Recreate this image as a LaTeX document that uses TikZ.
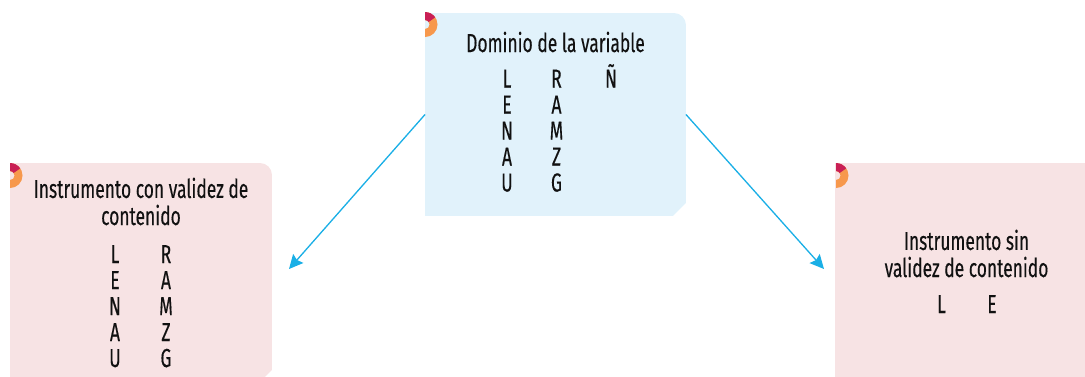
\documentclass[tikz,border=0pt]{standalone}
\usepackage{fontspec}
\setmainfont{Fira Sans}[FakeStretch=0.67, FakeBold=0.3]
\usetikzlibrary{arrows.meta, positioning, calc}
\definecolor{cielo}{HTML}{E1F2FB}
\definecolor{rosado}{HTML}{F7E3E4}
\definecolor{flecha}{HTML}{1AAFE6}
\definecolor{naranja}{HTML}{F7984C}
\definecolor{carmin}{HTML}{C91F55}
\definecolor{tinta}{HTML}{111111}

% fondo de caja: esquina superior derecha redondeada, inferior derecha cortada
\newcommand{\fondocaja}[2]{%
  \fill[#2] (#1.south west) -- (#1.north west) [rounded corners=0.24cm]
    -- (#1.north east) [sharp corners] -- ($(#1.south east)+(0,-13)$)
    -- ($(#1.south east)+(-13,0)$) -- cycle;
}
% medio anillo en la esquina superior izquierda
\newcommand{\anillo}[1]{%
  \begin{scope}[shift={(#1)}, x=1cm, y=1cm]
    \fill[naranja] (0,0.25) arc[start angle=90, end angle=-90, radius=0.25]
      -- (0,-0.09) arc[start angle=-90, end angle=90, radius=0.09] -- cycle;
    \fill[carmin] (0,0.25) arc[start angle=90, end angle=35, radius=0.25]
      -- (35:0.09) arc[start angle=35, end angle=90, radius=0.09] -- cycle;
  \end{scope}
}

\begin{document}
\begin{tikzpicture}[x=0.02cm, y=-0.02cm,
  caja/.style={inner sep=0, outer sep=0, minimum width=5.22cm},
  titulo/.style={font=\fontsize{14.8}{15.4}\selectfont, text=tinta, inner sep=0, anchor=base, align=center},
  letra/.style={font=\fontsize{14.8}{15.4}\selectfont, text=tinta, inner sep=0, anchor=base},
  conector/.style={flecha, line width=0.75pt, -{Stealth[length=0.28cm, width=0.27cm, inset=0.04cm]}}]

\useasboundingbox (0,0) rectangle (1085,376);
\clip (0,0) rectangle (1085,376);

% Cajas
\node[caja, minimum height=4.06cm] (dom) at (555.5,114.5) {};
\node[caja, minimum width=5.24cm, minimum height=4.4cm] (con) at (141,273) {};
\node[caja, minimum width=5.24cm, minimum height=4.4cm] (sin) at (966,273) {};

\fondocaja{dom}{cielo}
\fondocaja{con}{rosado}
\fondocaja{sin}{rosado}

\anillo{$(dom.north west)+(0,11.5)$}
\anillo{$(con.north west)+(0,12.5)$}
\anillo{$(sin.north west)+(1,12.5)$}

% Conectores
\coordinate (fincon) at (289,269);
\coordinate (finsin) at (824,269);
\draw[conector] (dom.west) -- (fincon);
\draw[conector] (dom.east) -- (finsin);

% Dominio de la variable
\node[titulo] (tdom) at (555.5,52) {Dominio de la variable};
\foreach \a/\b [count=\i] in {L/R, E/A, N/M, A/Z, U/G} {
  \node[letra] (dom\i a) at (507,{61.5+26*\i}) {\a};
  \node[letra] (dom\i b) at (556.5,{61.5+26*\i}) {\b};
}
\node[letra] (domn) at (611,87.5) {Ñ};

% Instrumento con validez (base = ultima linea)
\node[titulo] (tcon) at (141,225) {Instrumento con validez de\\contenido};
\foreach \a/\b [count=\i] in {L/R, E/A, N/M, A/Z, U/G} {
  \node[letra] (con\i a) at (115,{237+26*\i}) {\a};
  \node[letra] (con\i b) at (166,{237+26*\i}) {\b};
}

% Instrumento sin validez
\node[titulo] (tsin) at (966.5,277) {Instrumento sin\\validez de contenido};
\node[letra] (sinl) at (941.5,313) {L};
\node[letra] (sine) at (992,313) {E};

\end{tikzpicture}
\end{document}
